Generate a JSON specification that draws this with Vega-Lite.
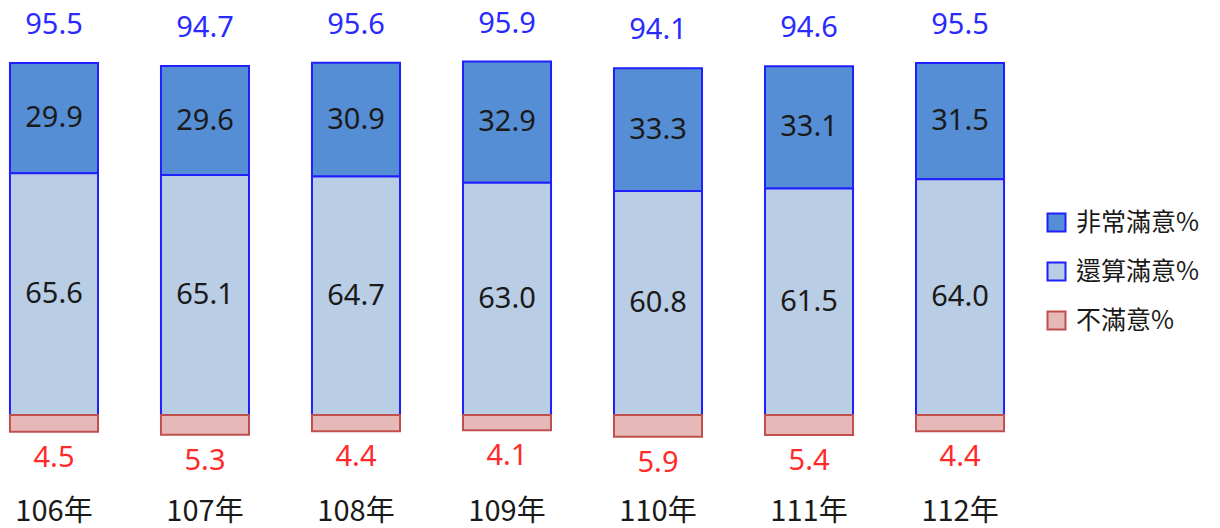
{
  "$schema": "https://vega.github.io/schema/vega-lite/v6.json",
  "width": 1014,
  "height": 480,
  "autosize": "none",
  "padding": {"left": 0, "top": 0, "right": 206, "bottom": 48},
  "background": "white",
  "config": {"view": {"stroke": null}, "font": "Noto Sans"},
  "data": {
    "values": [
      {"year": "106年", "cat": "非常滿意%", "value": 29.9},
      {"year": "106年", "cat": "還算滿意%", "value": 65.6},
      {"year": "106年", "cat": "不滿意%", "value": 4.5},
      {"year": "107年", "cat": "非常滿意%", "value": 29.6},
      {"year": "107年", "cat": "還算滿意%", "value": 65.1},
      {"year": "107年", "cat": "不滿意%", "value": 5.3},
      {"year": "108年", "cat": "非常滿意%", "value": 30.9},
      {"year": "108年", "cat": "還算滿意%", "value": 64.7},
      {"year": "108年", "cat": "不滿意%", "value": 4.4},
      {"year": "109年", "cat": "非常滿意%", "value": 32.9},
      {"year": "109年", "cat": "還算滿意%", "value": 63.0},
      {"year": "109年", "cat": "不滿意%", "value": 4.1},
      {"year": "110年", "cat": "非常滿意%", "value": 33.3},
      {"year": "110年", "cat": "還算滿意%", "value": 60.8},
      {"year": "110年", "cat": "不滿意%", "value": 5.9},
      {"year": "111年", "cat": "非常滿意%", "value": 33.1},
      {"year": "111年", "cat": "還算滿意%", "value": 61.5},
      {"year": "111年", "cat": "不滿意%", "value": 5.4},
      {"year": "112年", "cat": "非常滿意%", "value": 31.5},
      {"year": "112年", "cat": "還算滿意%", "value": 64.0},
      {"year": "112年", "cat": "不滿意%", "value": 4.4}
    ]
  },
  "transform": [
    {"calculate": "datum.cat === '不滿意%' ? -datum.value : datum.value", "as": "signed"},
    {"calculate": "datum.cat === '還算滿意%' ? 0 : (datum.cat === '非常滿意%' ? 1 : 2)", "as": "rank"},
    {"stack": "signed", "groupby": ["year"], "sort": [{"field": "rank", "order": "ascending"}], "as": ["y0", "y1"]},
    {"calculate": "(datum.y0 + datum.y1) / 2", "as": "ymid"}
  ],
  "encoding": {
    "x": {
      "field": "year",
      "type": "nominal",
      "sort": null,
      "scale": {"paddingInner": 0.417, "paddingOuter": 0.066},
      "axis": {
        "orient": "bottom",
        "domain": false,
        "ticks": false,
        "labelAngle": 0,
        "labelFontSize": 29,
        "labelFont": "Noto Sans CJK TC",
        "labelColor": "#1a1a1a",
        "labelPadding": 17,
        "title": null
      }
    }
  },
  "layer": [
    {
      "mark": {"type": "bar", "strokeWidth": 2, "opacity": 1},
      "encoding": {
        "y": {"field": "y0", "type": "quantitative", "scale": {"domain": [-17.6, 112.6], "nice": false, "zero": false}, "axis": null},
        "y2": {"field": "y1"},
        "color": {
          "field": "cat",
          "type": "nominal",
          "scale": {"domain": ["非常滿意%", "還算滿意%", "不滿意%"], "range": ["#558ed5", "#b9cde5", "#e6b9b8"]},
          "legend": {
            "title": null,
            "orient": "none",
            "legendX": 1044,
            "legendY": 210,
            "symbolType": "square",
            "symbolSize": 324,
            "symbolStrokeWidth": 2,
            "labelFontSize": 25,
            "labelFont": "Noto Sans CJK TC",
            "labelColor": "#1a1a1a",
            "rowPadding": 22,
            "labelOffset": 7
          }
        },
        "stroke": {
          "field": "cat",
          "type": "nominal",
          "scale": {"domain": ["非常滿意%", "還算滿意%", "不滿意%"], "range": ["#2020ff", "#2020ff", "#c0504d"]},
          "legend": {
            "title": null,
            "orient": "none",
            "legendX": 1044,
            "legendY": 210,
            "symbolType": "square",
            "symbolSize": 324,
            "symbolStrokeWidth": 2,
            "labelFontSize": 25,
            "labelFont": "Noto Sans CJK TC",
            "labelColor": "#1a1a1a",
            "rowPadding": 22,
            "labelOffset": 7
          }
        }
      }
    },
    {
      "transform": [{"filter": "datum.cat !== '不滿意%'"}],
      "mark": {"type": "text", "fontSize": 29, "color": "#1a1a1a", "baseline": "middle"},
      "encoding": {
        "y": {"field": "ymid", "type": "quantitative"},
        "text": {"field": "value", "type": "quantitative", "format": ".1f"}
      }
    },
    {
      "transform": [{"filter": "datum.cat === '非常滿意%'"}],
      "mark": {"type": "text", "fontSize": 29, "color": "#2a2aff", "baseline": "middle", "dy": -38},
      "encoding": {
        "y": {"field": "y1", "type": "quantitative"},
        "text": {"field": "y1", "type": "quantitative", "format": ".1f"}
      }
    },
    {
      "transform": [{"filter": "datum.cat === '不滿意%'"}],
      "mark": {"type": "text", "fontSize": 29, "color": "#ff2a2a", "baseline": "middle", "dy": 26},
      "encoding": {
        "y": {"field": "y1", "type": "quantitative"},
        "text": {"field": "value", "type": "quantitative", "format": ".1f"}
      }
    }
  ]
}
